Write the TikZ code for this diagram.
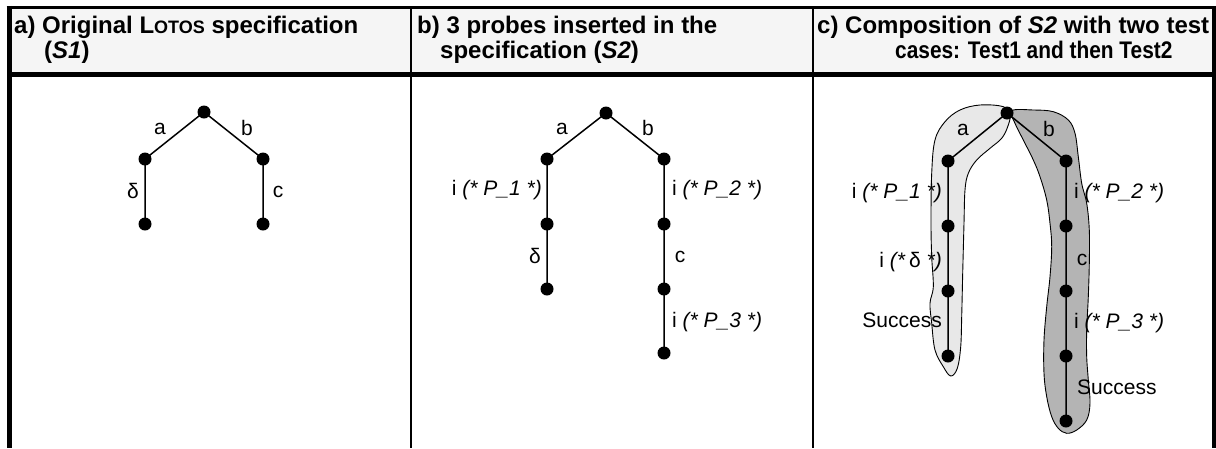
\documentclass[tikz,border=0pt]{standalone}
\usepackage{fontspec}
\setmainfont{Liberation Sans}
\definecolor{headfill}{HTML}{F5F5F5}
\definecolor{lightblob}{HTML}{E8E8E8}
\definecolor{darkblob}{HTML}{B4B4B4}
\begin{document}
\begin{tikzpicture}[x=1pt,y=-1pt,
  state/.style={circle,fill=black,inner sep=0pt,minimum size=13pt},
  trans/.style={line width=1.5pt},
  lbl/.style={inner sep=0pt,font=\fontsize{21}{25}\selectfont},
  head/.style={inner sep=0pt,anchor=base west,font=\fontsize{24}{25}\selectfont\bfseries},
  blob/.style={draw=black,line width=0.9pt}]
\useasboundingbox (0,0) rectangle (1216,448);

% table header and frame
\fill[headfill] (9,7.5) rectangle (1214,74);
\draw[line width=2pt] (411,7.5) -- (411,448);
\draw[line width=2pt] (812.5,7.5) -- (812.5,448);
\draw[line width=3.5pt] (6.5,7.5) -- (1216,7.5);
\draw[line width=5pt] (9,74) -- (1214,74);
\draw[line width=5.5pt] (9.3,5.75) -- (9.3,448);
\draw[line width=5pt] (1214,5.75) -- (1214,448);

% column titles
\node[head] (ha1) at (14,33) {a) Original L{\fontsize{18}{25}\selectfont OTOS} specification};
\node[head] (ha2) at (44,58) {(\textit{S1})};
\node[head] (hb1) at (417,33) {b) 3 probes inserted in the};
\node[head] (hb2) at (440,58) {specification (\textit{S2})};
\node[head] (hc1) at (817,33) {c) Composition of \textit{S2} with two test};
\node[head,xscale=0.87] (hc2) at (895,58) {cases: Test1 and then Test2};

% a) the original specification S1
\node[state] (ar) at (204,112) {};
\node[state] (al1) at (145,159) {};
\node[state] (al2) at (145,224) {};
\node[state] (am1) at (263,159) {};
\node[state] (am2) at (263,224) {};
\draw[trans] (ar.center) -- (al1.center) -- (al2.center);
\draw[trans] (ar.center) -- (am1.center) -- (am2.center);
\node[lbl] (aa) at (160,129) {a};
\node[lbl] (ab) at (247,128) {b};
\node[lbl] (ad) at (133,191) {δ};
\node[lbl] (ac) at (278,192) {c};

% b) specification S2 with probes
\node[state] (br) at (606,113) {};
\node[state] (bl1) at (547,159) {};
\node[state] (bl2) at (547,224) {};
\node[state] (bl3) at (547,289) {};
\node[state] (bm1) at (664,159) {};
\node[state] (bm2) at (664,224) {};
\node[state] (bm3) at (664,289) {};
\node[state] (bm4) at (664,353) {};
\draw[trans] (br.center) -- (bl1.center) -- (bl2.center) -- (bl3.center);
\draw[trans] (br.center) -- (bm1.center) -- (bm2.center) -- (bm3.center) -- (bm4.center);
\node[lbl] (ba) at (562,129) {a};
\node[lbl] (bb) at (648,128) {b};
\node[lbl,anchor=east] (bp1) at (542,190) {i \textit{(* P\_1 *)}};
\node[lbl] (bd) at (535,256) {δ};
\node[lbl,anchor=west] (bp2) at (672,190) {i \textit{(* P\_2 *)}};
\node[lbl] (bc) at (680,257) {c};
\node[lbl,anchor=west] (bp3) at (672,322) {i \textit{(* P\_3 *)}};

% c) composition with the two test cases
\filldraw[blob,fill=lightblob] plot[smooth cycle,tension=0.6] coordinates {
  (1003.3,106.7) (980,105) (960,110) (945,121.7) (935,140) (931.7,173.3)
  (931,223.3) (931.7,256.7) (933.3,286.7) (930,303.3) (931.7,323.3)
  (935,350) (943.3,366.7) (950.7,376) (957.3,368.3) (960.7,346.7)
  (961.7,316.7) (962.7,273.3) (964,223.3) (965,190) (968.3,173.3)
  (976.7,160) (990,148.3) (1001.7,138.3) (1007.7,126.7) (1010,115)};
\filldraw[blob,fill=darkblob] plot[smooth cycle,tension=0.6] coordinates {
  (1011.7,110.7) (1033.3,110) (1053.3,111.7) (1068.3,120) (1075,133.3)
  (1078.3,156.7) (1081.7,183.3) (1086.7,203.3) (1089.3,230) (1089.3,263.3)
  (1088.3,296.7) (1086.7,330) (1086.7,356.7) (1088.3,380) (1090,403.3)
  (1086.7,420) (1076.7,430) (1066.7,433.3) (1058.3,428.3) (1051.7,416.7)
  (1046.7,396.7) (1044,373.3) (1044,340) (1046.7,306.7) (1050,276.7)
  (1051.7,246.7) (1050,223.3) (1046.7,200) (1040,176.7) (1033.3,160)
  (1023.3,140) (1015,123.3)};

\node[state] (cr) at (1007,113) {};
\node[state] (cl1) at (948,161) {};
\node[state] (cl2) at (948,226) {};
\node[state] (cl3) at (948,291) {};
\node[state] (cl4) at (948,356) {};
\node[state] (cm1) at (1066,161) {};
\node[state] (cm2) at (1066,226) {};
\node[state] (cm3) at (1066,291) {};
\node[state] (cm4) at (1066,356) {};
\node[state] (cm5) at (1066,421) {};
\draw[trans] (cr.center) -- (cl1.center) -- (cl2.center) -- (cl3.center) -- (cl4.center);
\draw[trans] (cr.center) -- (cm1.center) -- (cm2.center) -- (cm3.center) -- (cm4.center) -- (cm5.center);
\node[lbl] (ca) at (963,130) {a};
\node[lbl] (cb) at (1049,129) {b};
\node[lbl,anchor=east] (cp1) at (942,193) {i \textit{(* P\_1 *)}};
\node[lbl,anchor=east] (cd) at (942,262) {i \textit{(*}\,δ\textit{ *)}};
\node[lbl,anchor=east] (cs1) at (942,320) {Success};
\node[lbl,anchor=west] (cp2) at (1074,193) {i \textit{(* P\_2 *)}};
\node[lbl] (cc) at (1082,260) {c};
\node[lbl,anchor=west] (cp3) at (1074,323) {i \textit{(* P\_3 *)}};
\node[lbl,anchor=west] (cs2) at (1077,387) {Success};
\end{tikzpicture}
\end{document}
